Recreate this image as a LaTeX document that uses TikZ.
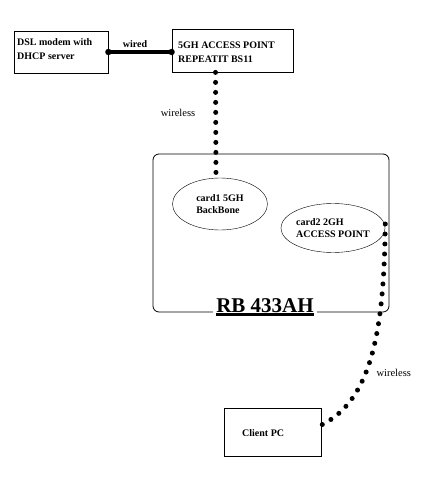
\documentclass[tikz,border=0pt]{standalone}
\usepackage{fontspec}
\setmainfont{Liberation Serif}
\usetikzlibrary{shapes.geometric}

\begin{document}
\begin{tikzpicture}[x=1pt, y=-1pt,
  box/.style={draw, thick, rectangle, inner sep=0pt},
  card/.style={draw, ellipse, inner sep=0pt, align=left, font=\fontsize{10}{12.5}\selectfont\bfseries},
  txt/.style={anchor=north west, inner sep=0pt, align=left, font=\fontsize{10}{14}\selectfont\bfseries},
  wless/.style={line width=5pt, line cap=round, dash pattern=on 0pt off 10pt},
  wired/.style={line width=3.5pt, line cap=round}]

\useasboundingbox (0,0) rectangle (434,500);

% boxes
\node [box, minimum width=94, minimum height=42] (dsl) at (61,52) {};
\node [box, minimum width=121, minimum height=43] (ap) at (232.5,50.5) {};
\node [box, minimum width=97, minimum height=48] (pc) at (272.5,432) {};
\node [txt] (dsltext) at (17,38) {DSL modem with\\DHCP server};
\node [txt] (aptext) at (178,42) {5GH ACCESS POINT\\REPEATIT BS11};
\node [txt, anchor=west] (pctext) at (242,433) {Client PC};

% router board
\draw [thick, rounded corners=6] (153,154) rectangle (389,312);
\node [card, minimum width=95, minimum height=52] (e1) at (220,204) {card1 5GH\\BackBone};
\node [card, minimum width=100, minimum height=49] (e2) at (333,228) {card2 2GH\\ACCESS POINT};
\node [anchor=base, fill=white, inner xsep=3pt, inner ysep=3pt,
       font=\fontsize{21}{24}\selectfont\bfseries] (rb) at (265,312) {RB 433AH};
\draw [line width=2.3pt] ([xshift=3pt, yshift=1pt]rb.south west) -- ([xshift=-3pt, yshift=1pt]rb.south east);

% links
\draw [wired] (dsl.east) -- (ap.west |- dsl.east);
\fill (dsl.east) circle (3.2);
\fill (ap.west |- dsl.east) circle (3.2);
\node [font=\fontsize{10}{12}\selectfont\bfseries] (wiredlabel) at (135,44) {wired};

\draw [wless] ([xshift=-17pt]ap.south) -- ([xshift=-4pt]e1.north);
\node [font=\fontsize{10.5}{12}\selectfont] (wl1) at (178,113) {wireless};

\draw [wless] ([yshift=4pt]e2.east) .. controls (384,330) and (372,400) .. ([yshift=7pt]pc.east);
\node [anchor=west, font=\fontsize{10.5}{12}\selectfont] (wl2) at (373,373) {wireless};
\end{tikzpicture}
\end{document}
